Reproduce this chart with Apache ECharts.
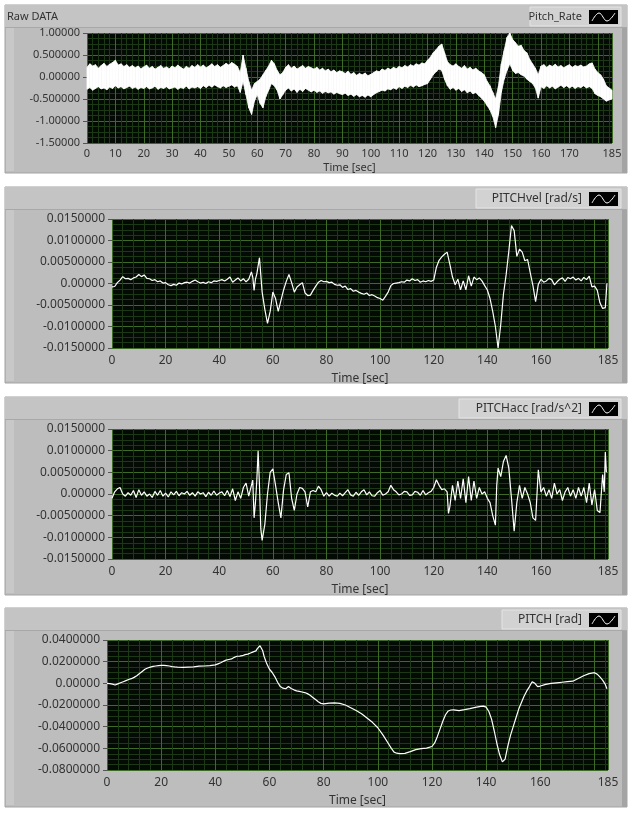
<!DOCTYPE html>
<html>
<head>
<meta charset="utf-8">
<script src="https://cdn.jsdelivr.net/npm/echarts@6/dist/echarts.min.js"></script>
<style>
  html, body { margin: 0; padding: 0; background: #fff; }
  #main { width: 637px; height: 816px; }
</style>
</head>
<body>
<div id="main"></div>
<script>
// raw pitch rate: upper / lower edge of the noisy band, one value per second (0..185)
const rawHi = [
  0.22,0.30,0.25,0.28,0.20,0.26,0.31,0.24,0.29,0.33,
  0.38,0.27,0.30,0.24,0.28,0.22,0.26,0.21,0.25,0.19,
  0.23,0.27,0.20,0.24,0.18,0.22,0.26,0.20,0.23,0.19,
  0.25,0.21,0.27,0.22,0.18,0.24,0.20,0.26,0.22,0.28,
  0.23,0.27,0.21,0.25,0.30,0.24,0.28,0.22,0.26,0.31,
  0.27,0.33,0.29,0.24,0.10,0.50,0.20,-0.10,-0.30,-0.15,
  -0.10,-0.05,0.05,0.15,0.25,0.38,0.30,0.15,0.05,0.10,
  0.22,0.28,0.20,0.25,0.18,0.22,0.26,0.20,0.24,0.21,
  0.18,0.22,0.16,0.20,0.14,0.18,0.12,0.16,0.10,0.14,
  0.12,0.08,0.13,0.06,0.10,0.04,0.08,0.05,0.09,0.03,
  0.06,0.10,0.14,0.12,0.18,0.15,0.20,0.17,0.22,0.19,
  0.24,0.21,0.26,0.23,0.28,0.25,0.30,0.27,0.32,0.30,
  0.38,0.45,0.55,0.62,0.70,0.75,0.55,0.35,0.28,0.25,
  0.30,0.24,0.20,0.26,0.18,0.22,0.16,0.20,0.14,0.10,
  0.05,-0.10,-0.20,-0.35,-0.50,-0.20,0.30,0.60,0.90,1.00,
  0.85,0.78,0.70,0.72,0.60,0.55,0.40,0.30,0.20,0.05,
  0.25,0.28,0.22,0.27,0.24,0.29,0.23,0.26,0.21,0.25,
  0.28,0.22,0.26,0.24,0.27,0.23,0.25,0.30,0.32,0.18,
  0.10,0.05,-0.05,-0.20,-0.25,-0.30
];
const rawLo = [
  -0.28,-0.24,-0.30,-0.26,-0.22,-0.27,-0.25,-0.29,-0.23,-0.26,
  -0.20,-0.25,-0.22,-0.27,-0.24,-0.21,-0.26,-0.23,-0.28,-0.24,
  -0.26,-0.22,-0.27,-0.25,-0.21,-0.28,-0.24,-0.26,-0.22,-0.27,
  -0.25,-0.23,-0.28,-0.24,-0.26,-0.21,-0.27,-0.23,-0.25,-0.22,
  -0.26,-0.20,-0.24,-0.19,-0.23,-0.18,-0.22,-0.25,-0.20,-0.24,
  -0.21,-0.18,-0.23,-0.20,-0.35,-0.10,-0.40,-0.70,-0.85,-0.55,
  -0.40,-0.60,-0.70,-0.45,-0.30,-0.15,-0.20,-0.30,-0.50,-0.40,
  -0.30,-0.25,-0.32,-0.27,-0.35,-0.28,-0.33,-0.26,-0.30,-0.34,
  -0.30,-0.35,-0.32,-0.37,-0.33,-0.36,-0.34,-0.39,-0.35,-0.38,
  -0.40,-0.37,-0.42,-0.39,-0.44,-0.40,-0.45,-0.42,-0.46,-0.41,
  -0.45,-0.40,-0.36,-0.33,-0.30,-0.32,-0.27,-0.29,-0.25,-0.28,
  -0.22,-0.26,-0.21,-0.24,-0.19,-0.23,-0.18,-0.22,-0.20,-0.17,
  -0.15,-0.05,0.05,0.12,0.18,0.15,-0.05,-0.20,-0.28,-0.24,
  -0.30,-0.26,-0.33,-0.29,-0.36,-0.32,-0.38,-0.35,-0.42,-0.48,
  -0.55,-0.65,-0.75,-0.90,-1.15,-0.85,-0.35,-0.05,0.15,0.30,
  0.15,0.08,0.10,0.05,0.02,-0.05,-0.10,-0.15,-0.25,-0.48,
  -0.22,-0.26,-0.20,-0.25,-0.21,-0.27,-0.23,-0.19,-0.24,-0.20,
  -0.25,-0.21,-0.26,-0.22,-0.24,-0.20,-0.25,-0.22,-0.26,-0.38,
  -0.42,-0.45,-0.50,-0.55,-0.52,-0.50
];

// [time sec, value in 1e-3 units]
const pitchVel = [
  [0,-0.8],[1,-0.7],[2,0.2],[3,0.8],[4,1.6],[5,1.1],[6,1.2],[7,0.9],[8,1.3],[9,1.5],
  [10,2.1],[11,1.6],[12,2.0],[13,1.2],[14,1.1],[15,0.7],[16,0.9],[17,0.4],[18,0.6],[19,0.1],
  [20,0.2],[21,-0.3],[22,-0.5],[23,-0.2],[24,-0.4],[25,0.1],[26,-0.1],[27,0.2],[28,0.3],[29,0.1],
  [30,0.5],[31,0.8],[32,0.4],[33,0.1],[34,0.3],[35,0.0],[36,0.4],[37,0.2],[38,0.6],[39,0.5],
  [40,0.7],[41,0.9],[42,0.6],[43,1.0],[44,1.5],[45,0.3],[46,0.8],[47,1.3],[48,0.6],[49,1.1],
  [50,0.4],[51,1.0],[52,2.7],[52.5,1.5],[53,-1.6],[53.5,1.0],[54,2.2],[55,6.0],[55.5,2.0],[56,-2.0],
  [57,-6.0],[58,-9.3],[59,-6.5],[60,-2.0],[61,-3.5],[62,-6.5],[63,-4.0],[64,-1.5],[65,0.5],[66,2.1],
  [67,0.2],[68,-2.0],[69,-0.8],[70,-0.3],[71,0.2],[72,-2.2],[73,-2.8],[74,-2.7],[75,-1.6],[76,-0.6],
  [77,0.3],[78,0.7],[79,0.4],[80,0.5],[81,0.2],[82,0.3],[83,-0.2],[84,-0.4],[85,-0.3],[86,-0.9],
  [87,-0.6],[88,-1.4],[89,-1.2],[90,-1.8],[91,-1.6],[92,-2.0],[93,-2.3],[94,-2.5],[95,-2.2],[96,-2.8],
  [97,-2.6],[98,-2.9],[99,-3.3],[100,-3.5],[101,-3.9],[102,-3.0],[103,-2.0],[104,-0.5],[105,0.0],[106,0.1],
  [107,0.2],[108,0.4],[109,0.3],[110,0.8],[111,0.6],[112,1.1],[113,0.7],[114,0.9],[115,0.3],[116,0.6],
  [117,0.4],[118,0.7],[119,0.5],[120,0.8],[121,3.8],[122,5.4],[123,6.2],[124,6.8],[125,7.3],[126,4.5],
  [127,1.5],[128,-0.3],[129,1.0],[130,-1.5],[131,0.6],[132,-1.5],[133,1.8],[134,-0.6],[135,1.5],[136,0.9],
  [137,1.3],[138,0.6],[139,-0.5],[140,-1.5],[141,-3.5],[142,-6.5],[143,-10.0],[144,-15.0],[145,-9.5],[146,-2.5],
  [147,2.0],[148,7.5],[149,13.5],[150,12.3],[151,6.3],[152,8.0],[153,7.3],[154,5.3],[155,5.6],[156,2.5],
  [157,-0.5],[158,-4.2],[159,-0.2],[160,1.0],[161,0.3],[162,0.6],[163,1.2],[164,0.9],[165,-0.3],[166,0.4],
  [167,1.0],[168,1.3],[169,0.5],[170,1.4],[171,1.1],[172,1.5],[173,0.8],[174,1.2],[175,0.6],[176,1.4],
  [177,0.9],[178,1.7],[179,-0.8],[180,-0.6],[181,-1.6],[182,-4.5],[183,-5.8],[184,-5.6],[184.6,0.0]
];

const pitchAcc = [
  [0,-1.0],[1,0.5],[2,1.2],[3,1.5],[4,0.0],[5,-0.5],[6,0.3],[7,-0.3],[8,0.8],[9,-0.8],
  [10,1.0],[11,-0.3],[12,0.5],[13,-0.5],[14,0.0],[15,-0.8],[16,0.6],[17,-0.3],[18,0.8],[19,-0.5],
  [20,0.2],[21,-0.7],[22,0.5],[23,-0.2],[24,0.6],[25,-0.4],[26,0.3],[27,0.0],[28,0.6],[29,-0.3],
  [30,0.3],[31,-0.5],[32,0.5],[33,0.0],[34,0.3],[35,-0.6],[36,0.4],[37,-0.3],[38,0.7],[39,-0.3],
  [40,0.2],[41,0.5],[42,-0.4],[43,0.8],[44,-0.6],[45,1.2],[46,-1.5],[47,0.5],[48,-1.0],[49,1.5],
  [50,2.5],[51,-0.5],[52,2.0],[52.5,3.2],[53,-5.5],[53.5,-2.0],[54,3.0],[54.5,10.0],[55,2.0],[55.5,-8.0],
  [56,-10.7],[57,-7.0],[58,0.0],[59,5.0],[60,5.8],[61,2.0],[62,-2.0],[63,-5.5],[64,1.0],[65,4.5],
  [66,4.9],[67,-1.0],[68,-3.8],[69,0.0],[70,1.5],[71,1.3],[72,0.5],[73,-3.0],[74,0.5],[75,0.8],
  [76,0.5],[77,1.8],[78,1.0],[79,-0.5],[80,0.3],[81,-0.5],[82,0.2],[83,-0.3],[84,-0.5],[85,0.2],
  [86,-0.4],[87,0.3],[88,1.0],[89,-0.2],[90,-0.5],[91,0.4],[92,-0.3],[93,0.5],[94,1.0],[95,-0.2],
  [96,0.5],[97,-0.4],[98,-0.5],[99,0.3],[100,0.8],[101,-0.3],[102,0.0],[103,0.5],[104,2.0],[105,1.0],
  [106,0.5],[107,-0.2],[108,0.0],[109,0.6],[110,0.5],[111,-0.3],[112,-0.2],[113,0.6],[114,0.4],[115,-0.3],
  [116,0.8],[117,-0.2],[118,0.3],[119,0.6],[120,1.5],[121,3.3],[122,2.0],[123,1.0],[124,1.2],[125,0.5],
  [125.5,-4.5],[126,-3.0],[127,2.0],[128,-1.5],[129,3.0],[130,-1.0],[131,3.5],[132,-2.0],[133,4.0],[134,-1.5],
  [135,3.0],[136,-1.0],[137,1.5],[138,0.0],[139,0.5],[140,-1.0],[141,-2.0],[142,-5.0],[143,-7.2],[143.5,2.0],
  [144,6.0],[145,4.0],[146,7.5],[147,8.9],[148,6.0],[149,-1.0],[150,-8.6],[151,-2.0],[152,2.0],[153,-1.0],
  [154,1.5],[155,0.0],[156,-2.0],[157,-5.5],[158,-6.1],[159,5.6],[160,0.5],[161,1.5],[162,-0.5],[163,1.0],
  [164,-1.0],[165,2.5],[166,0.0],[167,1.0],[168,-1.5],[169,0.5],[170,1.5],[171,-0.5],[172,1.0],[173,-1.0],
  [174,1.5],[175,-0.5],[176,1.5],[177,-2.0],[178,2.5],[179,-2.5],[180,1.0],[181,-3.8],[182,-4.3],[183,4.5],
  [183.6,0.5],[184,9.7],[184.4,5.0]
];

const pitch = [
  [0,0],[1,-0.3],[2,-0.8],[3,-1.5],[4,-0.5],[5,0.5],[6,1.5],[7,2.5],[8,3.5],[9,4.3],
  [10,5.5],[11,7],[12,9],[13,11],[14,13],[15,14.2],[16,15],[17,15.6],[18,16],[19,16.3],
  [20,16.5],[21,16.6],[22,16.3],[23,16],[24,15.5],[25,15.2],[26,15],[28,14.8],[30,15],[32,15.2],
  [34,15.8],[36,16],[38,16.4],[40,17],[41,18],[42,19],[43,20.3],[44,21.5],[45,22],[46,22.5],
  [47,24],[48,25],[49,25.2],[50,25.5],[51,26.5],[52,27],[53,28],[54,29],[55,30],[55.5,32],
  [56,33.5],[56.5,34.7],[57,33],[57.5,30],[58,25],[59,18],[60,13],[61,10],[62,6],[63,1],
  [64,-3],[65,-4.5],[66,-5],[67,-3],[68,-4.8],[69,-6],[70,-7],[71,-7.5],[72,-8],[73,-8.5],
  [74,-9.5],[75,-11],[76,-13],[77,-15],[78,-17],[79,-18.5],[80,-19],[82,-18.2],[84,-18],[86,-18.5],
  [88,-20],[90,-22.5],[92,-25],[94,-28],[96,-32],[98,-36],[100,-41],[102,-48],[104,-56],[105,-60],
  [106,-63.5],[107,-64.5],[108,-64.8],[110,-64.6],[112,-63],[114,-61.2],[116,-60.2],[118,-59.8],[120,-58.3],[121,-55],
  [122,-49],[123,-42],[124,-35],[125,-29],[126,-25.5],[127,-24.6],[128,-24.5],[130,-25.2],[132,-24.3],[134,-23.3],
  [136,-22.2],[138,-21.3],[139,-21],[140,-22],[141,-26],[142,-33],[143,-44],[144,-56],[145,-66],[146,-72.5],
  [146.5,-73],[147,-70],[148,-58],[149,-48],[150,-40],[151,-32],[152,-24],[153,-18],[154,-12],[155,-7],
  [156,-3],[157,1.5],[158,0],[159,-3],[160,-2.5],[162,-1],[164,0],[166,0.5],[168,1],[170,1.5],
  [172,2],[174,4.5],[176,7],[178,9],[179,9.5],[180,9.8],[181,8.5],[182,6],[183,3],[184,-1],[184.6,-5]
];

const panelTitles = ['Raw DATA', '', '', ''];
const legendNames = ['Pitch_Rate', 'PITCHvel [rad/s]', 'PITCHacc [rad/s^2]', 'PITCH [rad]'];
const yRanges = [[-1.5, 1, 0.5], [-0.015, 0.015, 0.005], [-0.015, 0.015, 0.005], [-0.08, 0.04, 0.02]];
const xSteps = [10, 20, 20, 20];

const FONT = '"Noto Sans", "Segoe UI", sans-serif';
const TXT = '#333';

// panel boxes (gray LabVIEW-like frames)
const panels = [
  { top: 5, bottom: 173, legendLeft: 530, fs: 11 },
  { top: 187, bottom: 383, legendLeft: 476, fs: 12 },
  { top: 397, bottom: 595, legendLeft: 459, fs: 12 },
  { top: 608, bottom: 807, legendLeft: 502, fs: 12 }
];
const grids = [
  { left: 87, top: 33, width: 525, height: 110 },
  { left: 112, top: 219, width: 496, height: 129 },
  { left: 112, top: 429, width: 496, height: 130 },
  { left: 107, top: 640, width: 501, height: 130 }
];

function yLabel(v) {
  if (Math.abs(v) < 1e-12) return '0.00000';
  return (+v).toPrecision(6);
}

const graphic = [];
panels.forEach((p, i) => {
  const h = p.bottom - p.top;
  graphic.push(
    { type: 'rect', z: -20, shape: { x: 5, y: p.top, width: 622, height: h }, style: { fill: '#bdbdbd', stroke: '#a3a3a3', lineWidth: 1 } },
    { type: 'rect', z: -19, shape: { x: 6, y: p.top + 23, width: 8, height: h - 25 }, style: { fill: '#c8c8c8' } },
    { type: 'rect', z: -19, shape: { x: 622, y: p.top + 23, width: 5, height: h - 23 }, style: { fill: '#a4a4a4' } },
    { type: 'rect', z: -19, shape: { x: 5, y: p.top, width: 622, height: 22 }, style: { fill: '#c4c4c4' } },
    { type: 'line', z: -18, shape: { x1: 5, y1: p.top + 22.5, x2: 627, y2: p.top + 22.5 }, style: { stroke: '#a8a8a8', lineWidth: 1 } },
    { type: 'rect', z: -17, shape: { x: p.legendLeft, y: p.top + 2, width: 621 - p.legendLeft, height: 19 }, style: { fill: '#d2d2d2', stroke: '#e4e4e4', lineWidth: 1 } },
    { type: 'text', z: -16, x: 582, y: p.top + 12, style: { text: legendNames[i], fill: TXT, font: (p.fs) + 'px ' + FONT, align: 'right', verticalAlign: 'middle' } },
    { type: 'rect', z: -16, shape: { x: 589, y: p.top + 5, width: 29, height: 14 }, style: { fill: '#000' } },
    { type: 'polyline', z: -15, shape: { points: [[592, p.top + 16], [599, p.top + 8], [607, p.top + 16], [615, p.top + 8]], smooth: 0.4 }, style: { stroke: '#fff', lineWidth: 1, fill: null } }
  );
  if (panelTitles[i]) {
    graphic.push({ type: 'text', z: -16, x: 7, y: p.top + 12, style: { text: panelTitles[i], fill: TXT, font: '11px ' + FONT, verticalAlign: 'middle' } });
  }
});

const xAxis = grids.map((g, i) => ({
  type: 'value', gridIndex: i, min: 0, max: 185, interval: xSteps[i],
  name: 'Time [sec]', nameLocation: 'middle', nameGap: i === 0 ? 19 : 25,
  nameTextStyle: { color: TXT, fontSize: panels[i].fs, fontFamily: FONT },
  axisLine: { show: false },
  axisTick: { show: true, length: 4, lineStyle: { color: '#555' } },
  axisLabel: { color: TXT, fontSize: panels[i].fs, fontFamily: FONT, margin: i === 0 ? 5 : 7, showMinLabel: true, showMaxLabel: true,
    formatter: v => (v === 180 ? '' : String(v)) },
  splitLine: { show: true, lineStyle: { color: '#3d6a25', width: 1 } },
  minorTick: { show: false, splitNumber: 5 },
  minorSplitLine: { show: true, lineStyle: { color: '#1d3815', width: 1 } }
}));

const yAxis = grids.map((g, i) => ({
  type: 'value', gridIndex: i, min: yRanges[i][0], max: yRanges[i][1], interval: yRanges[i][2],
  axisLine: { show: false },
  axisTick: { show: true, length: 4, lineStyle: { color: '#555' } },
  axisLabel: { color: TXT, fontSize: panels[i].fs, fontFamily: FONT, margin: 7, formatter: yLabel },
  splitLine: { show: true, lineStyle: { color: '#3d6a25', width: 1 } },
  minorTick: { show: false, splitNumber: 4 },
  minorSplitLine: { show: true, lineStyle: { color: '#1d3815', width: 1 } }
}));

const milli = arr => arr.map(d => [d[0], d[1] / 1000]);
const lineBase = { type: 'line', symbol: 'none', silent: true, animation: false, lineStyle: { color: '#fff', width: 1.2 } };

// raw band: each item is [t, lo, hi, nextT, nextLo, nextHi], drawn as a filled quad
const rawBand = rawHi.slice(0, -1).map((v, t) => [t, rawLo[t], v, t + 1, rawLo[t + 1], rawHi[t + 1]]);

function renderBand(params, api) {
  const a = api.coord([api.value(0), api.value(2)]);
  const b = api.coord([api.value(3), api.value(5)]);
  const c = api.coord([api.value(3), api.value(4)]);
  const d = api.coord([api.value(0), api.value(1)]);
  return {
    type: 'polygon',
    shape: { points: [a, b, c, d] },
    style: { fill: '#fff', stroke: '#fff', lineWidth: 0.8 }
  };
}

const option = {
  backgroundColor: '#fff',
  animation: false,
  graphic: graphic,
  grid: grids.map(g => Object.assign({ show: true, backgroundColor: '#040a04', borderWidth: 0, containLabel: false }, g)),
  xAxis: xAxis,
  yAxis: yAxis,
  series: [
    { type: 'custom', xAxisIndex: 0, yAxisIndex: 0, silent: true, animation: false,
      renderItem: renderBand, encode: { x: [0, 3], y: [1, 2, 4, 5] }, data: rawBand },
    Object.assign({}, lineBase, { xAxisIndex: 1, yAxisIndex: 1, data: milli(pitchVel) }),
    Object.assign({}, lineBase, { xAxisIndex: 2, yAxisIndex: 2, data: milli(pitchAcc) }),
    Object.assign({}, lineBase, { xAxisIndex: 3, yAxisIndex: 3, data: milli(pitch) })
  ]
};

const chart = echarts.init(document.getElementById('main'), null, { renderer: 'canvas' });
chart.setOption(option);
</script>
</body>
</html>
